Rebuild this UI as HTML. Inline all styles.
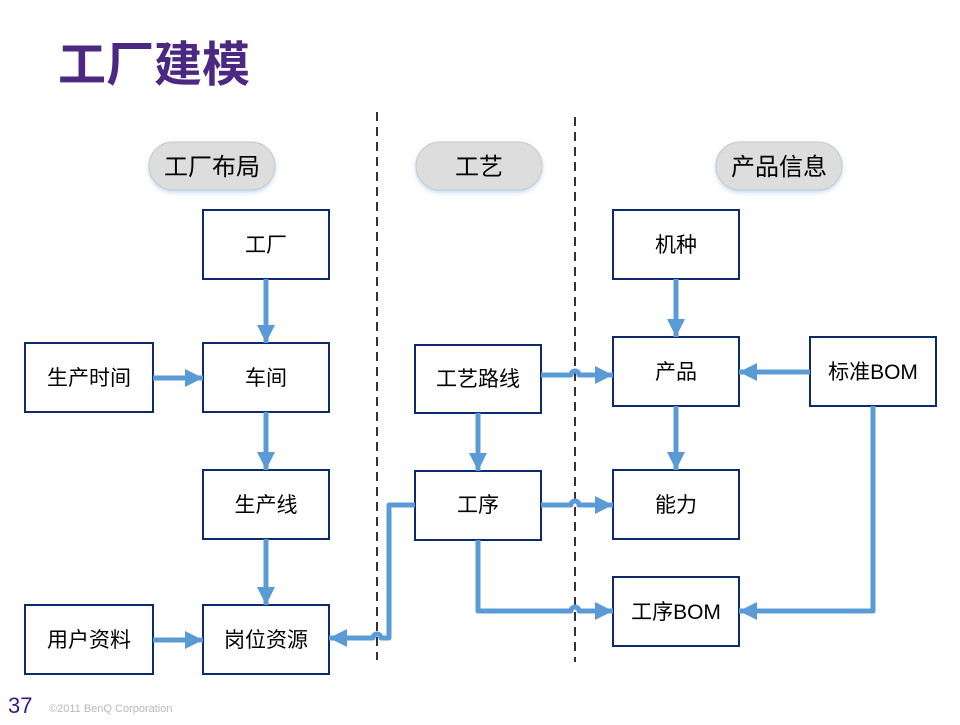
<!DOCTYPE html>
<html><head><meta charset="utf-8"><style>
body{margin:0;width:960px;height:720px;background:#fff;overflow:hidden;font-family:"Liberation Sans","Noto Sans CJK SC",sans-serif}
</style></head><body>
<svg width="960" height="720" viewBox="0 0 960 720" xmlns="http://www.w3.org/2000/svg" font-family="Liberation Sans, Noto Sans CJK SC, sans-serif">
<defs>
<marker id="a" markerUnits="userSpaceOnUse" markerWidth="20" markerHeight="20" refX="18" refY="10" orient="auto"><path d="M0,1 L18,10 L0,19 Z" fill="#5B9BD5"/></marker>
<filter id="sh" x="-10%" y="-10%" width="130%" height="140%"><feDropShadow dx="0" dy="2" stdDeviation="2" flood-color="#9cc3e8" flood-opacity="0.6"/></filter>
</defs>
<text x="58" y="81" font-size="48" font-weight="bold" fill="#4B2882">工厂建模</text>
<g stroke="#000" stroke-width="1.6" stroke-dasharray="9,6"><line x1="377" y1="112" x2="377" y2="660"/><line x1="575" y1="117" x2="575" y2="662"/></g>
<g fill="#DDDDDD" stroke="#c8c8c8" filter="url(#sh)">
<rect x="149" y="142" width="126" height="48" rx="24"/><rect x="416" y="142" width="126" height="48" rx="24"/><rect x="716" y="142" width="126" height="48" rx="24"/></g>
<g font-size="24" text-anchor="middle" fill="#000"><text x="212" y="175">工厂布局</text><text x="479" y="175">工艺</text><text x="779" y="175">产品信息</text></g>
<g fill="#fff" stroke="#0D2B6B" stroke-width="2">
<rect x="203" y="210" width="126" height="69"/><rect x="203" y="343" width="126" height="69"/><rect x="25" y="343" width="128" height="69"/><rect x="203" y="470" width="126" height="69"/><rect x="25" y="605" width="128" height="69"/><rect x="203" y="605" width="126" height="69"/>
<rect x="415" y="345" width="126" height="68"/><rect x="415" y="471" width="126" height="69"/>
<rect x="613" y="210" width="126" height="69"/><rect x="613" y="337" width="126" height="69"/><rect x="810" y="337" width="126" height="69"/><rect x="613" y="470" width="126" height="69"/><rect x="613" y="577" width="126" height="69"/></g>
<g font-size="21" text-anchor="middle" fill="#000">
<text x="266" y="252">工厂</text><text x="266" y="385">车间</text><text x="89" y="385">生产时间</text><text x="266" y="512">生产线</text><text x="89" y="647">用户资料</text><text x="266" y="647">岗位资源</text>
<text x="478" y="386">工艺路线</text><text x="478" y="512">工序</text>
<text x="676" y="252">机种</text><text x="676" y="379">产品</text><text x="873" y="379">标准BOM</text><text x="676" y="512">能力</text><text x="676" y="619">工序BOM</text></g>
<g stroke="#5B9BD5" stroke-width="5" fill="none" marker-end="url(#a)" stroke-linejoin="round">
<path d="M266,279 V343"/><path d="M153,378 H203"/><path d="M266,412 V470"/><path d="M266,539 V605"/><path d="M153,640 H203"/>
<path d="M415,505 H389 V638 H381 A4,4 0 0 0 373,638 H329"/>
<path d="M541,375 H571 A4,4 0 0 1 579,375 H613"/>
<path d="M478,413 V471"/>
<path d="M541,505 H571 A4,4 0 0 1 579,505 H613"/>
<path d="M478,540 V611 H571 A4,4 0 0 1 579,611 H613"/>
<path d="M676,279 V337"/><path d="M810,372 H739"/><path d="M676,406 V470"/>
<path d="M873,406 V611 H739"/>
</g>
<text x="8" y="713" font-size="22" fill="#3A1C78">37</text>
<text x="49" y="712" font-size="11" fill="#b8b8b8">©2011 BenQ Corporation</text>
</svg>
</body></html>
